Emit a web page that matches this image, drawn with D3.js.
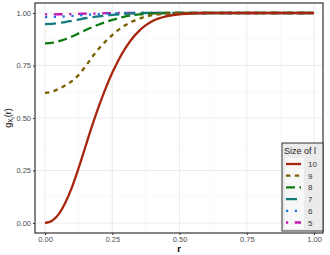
<!DOCTYPE html>
<html>
<head>
<meta charset="utf-8">
<script src="https://cdn.jsdelivr.net/npm/d3@7"></script>
<style>
  html, body { margin: 0; padding: 0; background: #fff; }
  svg { display: block; font-family: "Liberation Sans", Arial, sans-serif; }
</style>
</head>
<body>
<svg id="chart" width="330" height="255"></svg>
<script>
const rValues = [0, 0.025, 0.05, 0.075, 0.1, 0.125, 0.15, 0.175, 0.2, 0.225, 0.25, 0.275, 0.3, 0.325, 0.35, 0.375, 0.4, 0.45, 0.5, 0.55, 0.6, 0.7, 0.8, 0.9, 1];
const g10 = [0, 0.01, 0.04, 0.095, 0.17, 0.262, 0.362, 0.462, 0.555, 0.64, 0.715, 0.78, 0.835, 0.88, 0.915, 0.942, 0.962, 0.984, 0.994, 0.998, 1, 1, 1, 1, 1];
const g9 = [0.62, 0.625, 0.638, 0.655, 0.676, 0.705, 0.745, 0.79, 0.83, 0.865, 0.895, 0.922, 0.943, 0.96, 0.973, 0.983, 0.99, 0.997, 1, 1, 1, 1, 1, 1, 1];
const g8 = [0.855, 0.858, 0.865, 0.875, 0.888, 0.903, 0.918, 0.932, 0.945, 0.957, 0.967, 0.976, 0.984, 0.989, 0.993, 0.996, 0.998, 1, 1, 1, 1, 1, 1, 1, 1];
const g7 = [0.947, 0.948, 0.952, 0.957, 0.963, 0.969, 0.975, 0.98, 0.984, 0.988, 0.991, 0.994, 0.996, 0.998, 0.999, 1, 1, 1, 1, 1, 1, 1, 1, 1, 1];
const g6 = [0.98, 0.981, 0.982, 0.984, 0.986, 0.988, 0.991, 0.993, 0.995, 0.997, 0.998, 0.999, 1, 1, 1, 1, 1, 1, 1, 1, 1, 1, 1, 1, 1];
const g5 = [0.993, 0.993, 0.994, 0.994, 0.995, 0.996, 0.997, 0.997, 0.998, 0.999, 0.999, 1, 1, 1, 1, 1, 1, 1, 1, 1, 1, 1, 1, 1, 1];
const sizes = ["10", "9", "8", "7", "6", "5"];
const xTicks = [0, 0.25, 0.5, 0.75, 1];
const yTicks = [0, 0.25, 0.5, 0.75, 1];

const seriesValues = [g10, g9, g8, g7, g6, g5];
const colors = ["#a8250f", "#7a6000", "#0f7a12", "#127c7c", "#1f6fe0", "#c41ab4"];
const dashes = [null, "4.4,4.4", "9,4.5", "11,5", "2.2,6.6", "2.2,6.6,8.8,6.6"];

const svg = d3.select("#chart");
const panel = { left: 35, top: 3, right: 323, bottom: 233 };

const x = d3.scaleLinear().domain([0, 1]).range([45, 314]);
const y = d3.scaleLinear().domain([0, 1]).range([223, 13]);

// grid
const minorX = [0.125, 0.375, 0.625, 0.875];
const minorY = [0.125, 0.375, 0.625, 0.875];
const grid = svg.append("g");
grid.selectAll(".mx").data(minorX).join("line")
  .attr("x1", x).attr("x2", x).attr("y1", panel.top).attr("y2", panel.bottom)
  .attr("stroke", "#f3f3f3").attr("stroke-width", 0.5);
grid.selectAll(".my").data(minorY).join("line")
  .attr("y1", y).attr("y2", y).attr("x1", panel.left).attr("x2", panel.right)
  .attr("stroke", "#f3f3f3").attr("stroke-width", 0.5);
grid.selectAll(".gx").data(xTicks).join("line")
  .attr("x1", x).attr("x2", x).attr("y1", panel.top).attr("y2", panel.bottom)
  .attr("stroke", "#ebebeb").attr("stroke-width", 1);
grid.selectAll(".gy").data(yTicks).join("line")
  .attr("y1", y).attr("y2", y).attr("x1", panel.left).attr("x2", panel.right)
  .attr("stroke", "#ebebeb").attr("stroke-width", 1);

// curves
const line = d3.line()
  .x((d) => x(d[0]))
  .y((d) => y(d[1]))
  .curve(d3.curveMonotoneX);

svg.append("g").selectAll("path")
  .data(seriesValues.map((vals, i) => ({ i, pts: rValues.map((r, k) => [r, vals[k]]) })).reverse())
  .join("path")
  .attr("d", (d) => line(d.pts))
  .attr("fill", "none")
  .attr("stroke", (d) => colors[d.i])
  .attr("stroke-width", 2.3)
  .attr("stroke-dasharray", (d) => dashes[d.i]);

// panel border
svg.append("rect")
  .attr("x", panel.left).attr("y", panel.top)
  .attr("width", panel.right - panel.left).attr("height", panel.bottom - panel.top)
  .attr("fill", "none").attr("stroke", "#333").attr("stroke-width", 1.2);

// axes
const xAxis = d3.axisBottom(x).tickValues(xTicks).tickFormat(d3.format(".2f")).tickSize(2).tickPadding(2);
const yAxis = d3.axisLeft(y).tickValues(yTicks).tickFormat(d3.format(".2f")).tickSize(2).tickPadding(2);

const gx = svg.append("g").attr("transform", `translate(0,${panel.bottom})`).call(xAxis);
const gy = svg.append("g").attr("transform", `translate(${panel.left},0)`).call(yAxis);
[gx, gy].forEach((g) => {
  g.select(".domain").remove();
  g.selectAll(".tick line").attr("stroke", "#333");
  g.selectAll(".tick text").attr("fill", "#4d4d4d").style("font-size", "7.5px");
});

svg.append("text")
  .attr("x", (panel.left + panel.right) / 2).attr("y", 252)
  .attr("text-anchor", "middle")
  .style("font-size", "9.5px").style("font-weight", "bold")
  .text("r");

const yt = svg.append("text")
  .attr("transform", `translate(11,${(panel.top + panel.bottom) / 2}) rotate(-90)`)
  .attr("text-anchor", "middle")
  .style("font-size", "9px");
yt.append("tspan").text("g");
yt.append("tspan").attr("dy", 2).style("font-size", "6.5px").text("X");
yt.append("tspan").attr("dy", 1.5).style("font-size", "5px").text("l");
yt.append("tspan").attr("dy", -3.5).text("(r)");

// legend
const lg = svg.append("g").attr("transform", "translate(282,143)");
lg.append("rect").attr("width", 41).attr("height", 88)
  .attr("fill", "#ebebeb").attr("stroke", "#333").attr("stroke-width", 1);
lg.append("text").attr("x", 2).attr("y", 11)
  .style("font-size", "9px").attr("fill", "#222").text("Size of l");
lg.append("rect").attr("x", 3).attr("y", 15).attr("width", 19).attr("height", 71).attr("fill", "#f7f7f7");

const rows = lg.selectAll(".row").data(sizes).join("g")
  .attr("transform", (d, i) => `translate(0,${21 + i * 11.7})`);
rows.append("line")
  .attr("x1", 4).attr("x2", 19).attr("y1", 0).attr("y2", 0)
  .attr("stroke", (d, i) => colors[i]).attr("stroke-width", 2.3)
  .attr("stroke-dasharray", (d, i) => dashes[i]);
rows.append("text").attr("x", 26).attr("y", 3)
  .style("font-size", "8px").attr("fill", "#333").text((d) => d);
</script>
</body>
</html>
